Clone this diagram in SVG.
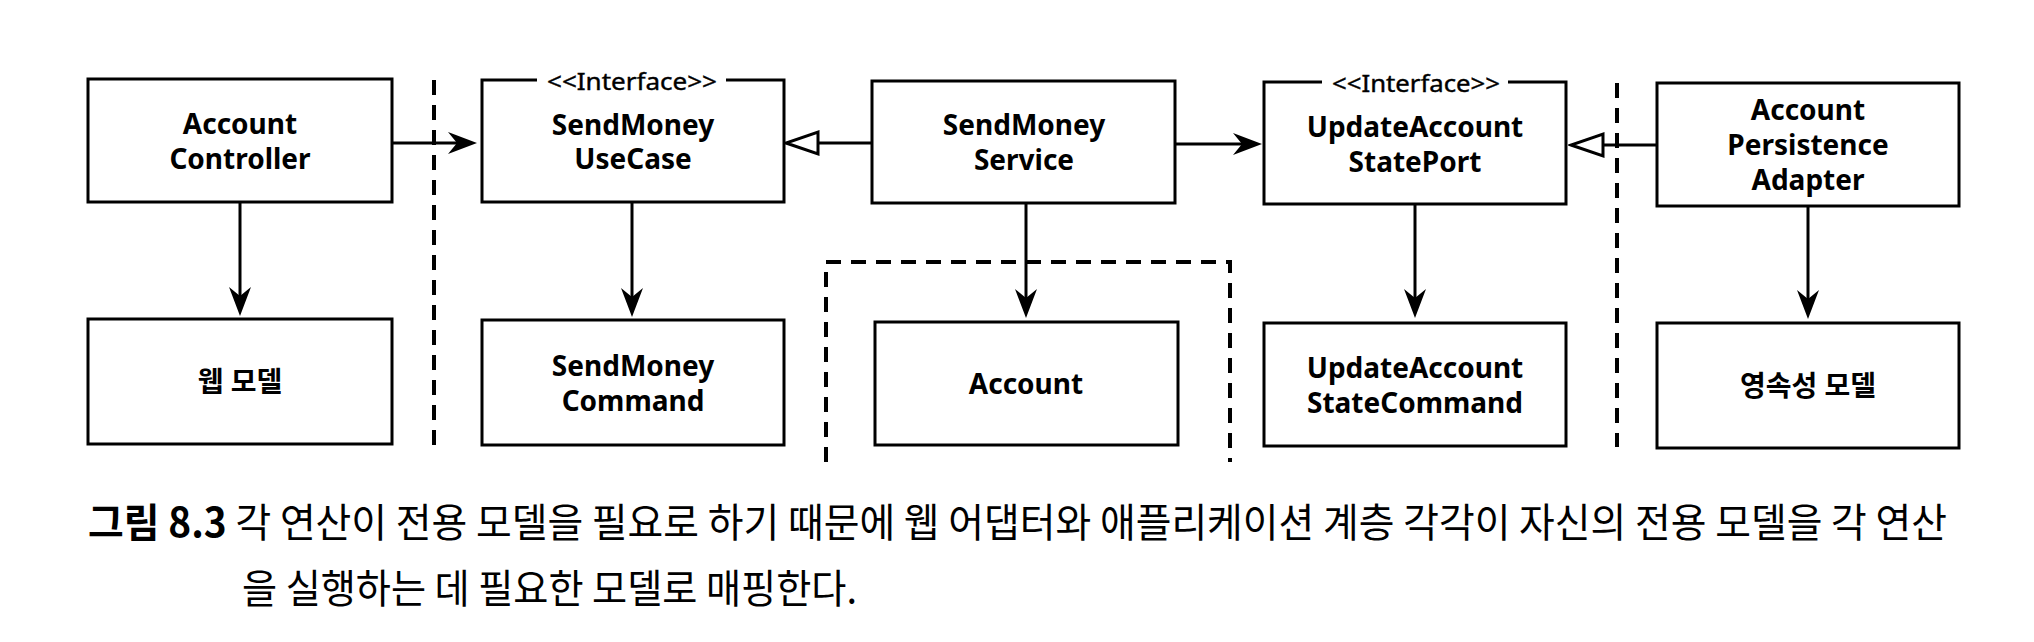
<svg xmlns="http://www.w3.org/2000/svg" width="2034" height="642" viewBox="0 0 2034 642">
  <style>
    .box { fill: #ffffff; stroke: #000000; stroke-width: 3; }
    .open { fill: none; stroke: #000000; stroke-width: 3; }
    .lbl { font-family: "Noto Sans", "Noto Sans CJK KR", sans-serif; font-size: 28px; font-weight: 700; fill: #000000; text-anchor: middle; }
    .stereo { font-family: "Noto Sans", sans-serif; font-size: 23px; font-weight: 400; fill: #000000; stroke: #000000; stroke-width: 0.4; text-anchor: middle; }
    .edge { fill: none; stroke: #000000; stroke-width: 3; }
    .dash { fill: none; stroke: #000000; stroke-width: 4; stroke-dasharray: 15 10; }
    .cap { font-family: "Noto Sans CJK KR", sans-serif; font-size: 40px; fill: #000000; }
    .capb { font-weight: 700; }
  </style>
  <defs>
    <marker id="arrow" markerUnits="userSpaceOnUse" viewBox="-10 -12 32 24" refX="0" refY="0" markerWidth="32" markerHeight="24" orient="auto">
      <path d="M20,0 L-9,-11 L0,0 L-9,11 Z" fill="#000000"/>
    </marker>
    <marker id="tri" markerUnits="userSpaceOnUse" viewBox="-3 -14 38 28" refX="0" refY="0" markerWidth="38" markerHeight="28" orient="auto">
      <path d="M32,0 L0,-11 L0,11 Z" fill="#ffffff" stroke="#000000" stroke-width="3" stroke-linejoin="miter"/>
    </marker>
  </defs>
  <rect width="2034" height="642" fill="#ffffff"/>

  <g id="boundaries">
    <line class="dash" x1="434" y1="80" x2="434" y2="446"/>
    <line class="dash" x1="1617" y1="83" x2="1617" y2="447"/>
    <path class="dash" d="M826,462 L826,262 L1230,262 L1230,462"/>
  </g>

  <g id="connectors">
    <line class="edge" x1="392" y1="143" x2="457" y2="143" marker-end="url(#arrow)"/>
    <line class="edge" x1="872" y1="143" x2="818" y2="143" marker-end="url(#tri)"/>
    <line class="edge" x1="1175" y1="144" x2="1242" y2="144" marker-end="url(#arrow)"/>
    <line class="edge" x1="1657" y1="145" x2="1603" y2="145" marker-end="url(#tri)"/>
    <line class="edge" x1="240" y1="202" x2="240" y2="296" marker-end="url(#arrow)"/>
    <line class="edge" x1="632" y1="202" x2="632" y2="297" marker-end="url(#arrow)"/>
    <line class="edge" x1="1026" y1="203" x2="1026" y2="298" marker-end="url(#arrow)"/>
    <line class="edge" x1="1415" y1="204" x2="1415" y2="298" marker-end="url(#arrow)"/>
    <line class="edge" x1="1808" y1="206" x2="1808" y2="299" marker-end="url(#arrow)"/>
  </g>

  <g id="AccountController">
    <rect class="box" x="88" y="79" width="304" height="123"/>
    <text class="lbl" x="240" y="134">Account</text>
    <text class="lbl" x="240" y="169">Controller</text>
  </g>

  <g id="SendMoneyUseCase">
    <path class="open" d="M537,80 L482,80 L482,202 L784,202 L784,80 L726,80"/>
    <text class="stereo" x="632" y="90" textLength="170" lengthAdjust="spacingAndGlyphs">&lt;&lt;Interface&gt;&gt;</text>
    <text class="lbl" x="633" y="135">SendMoney</text>
    <text class="lbl" x="633" y="169">UseCase</text>
  </g>

  <g id="SendMoneyService">
    <rect class="box" x="872" y="81" width="303" height="122"/>
    <text class="lbl" x="1024" y="135">SendMoney</text>
    <text class="lbl" x="1024" y="170">Service</text>
  </g>

  <g id="UpdateAccountStatePort">
    <path class="open" d="M1322,82 L1264,82 L1264,204 L1566,204 L1566,82 L1508,82"/>
    <text class="stereo" x="1416" y="92" textLength="168" lengthAdjust="spacingAndGlyphs">&lt;&lt;Interface&gt;&gt;</text>
    <text class="lbl" x="1415" y="137">UpdateAccount</text>
    <text class="lbl" x="1415" y="172">StatePort</text>
  </g>

  <g id="AccountPersistenceAdapter">
    <rect class="box" x="1657" y="83" width="302" height="123"/>
    <text class="lbl" x="1808" y="120">Account</text>
    <text class="lbl" x="1808" y="155">Persistence</text>
    <text class="lbl" x="1808" y="190">Adapter</text>
  </g>

  <g id="WebModel">
    <rect class="box" x="88" y="319" width="304" height="125"/>
    <text class="lbl" x="240" y="392">웹 모델</text>
  </g>

  <g id="SendMoneyCommand">
    <rect class="box" x="482" y="320" width="302" height="125"/>
    <text class="lbl" x="633" y="376">SendMoney</text>
    <text class="lbl" x="633" y="411">Command</text>
  </g>

  <g id="Account">
    <rect class="box" x="875" y="322" width="303" height="123"/>
    <text class="lbl" x="1026" y="394">Account</text>
  </g>

  <g id="UpdateAccountStateCommand">
    <rect class="box" x="1264" y="323" width="302" height="123"/>
    <text class="lbl" x="1415" y="378">UpdateAccount</text>
    <text class="lbl" x="1415" y="413">StateCommand</text>
  </g>

  <g id="PersistenceModel">
    <rect class="box" x="1657" y="323" width="302" height="125"/>
    <text class="lbl" x="1808" y="396">영속성 모델</text>
  </g>

  <g id="caption">
    <text class="cap" x="88" y="537" textLength="1859" lengthAdjust="spacingAndGlyphs"><tspan class="capb">그림 8.3</tspan> 각 연산이 전용 모델을 필요로 하기 때문에 웹 어댑터와 애플리케이션 계층 각각이 자신의 전용 모델을 각 연산</text>
    <text class="cap" x="242" y="603" textLength="615" lengthAdjust="spacingAndGlyphs">을 실행하는 데 필요한 모델로 매핑한다.</text>
  </g>
</svg>
